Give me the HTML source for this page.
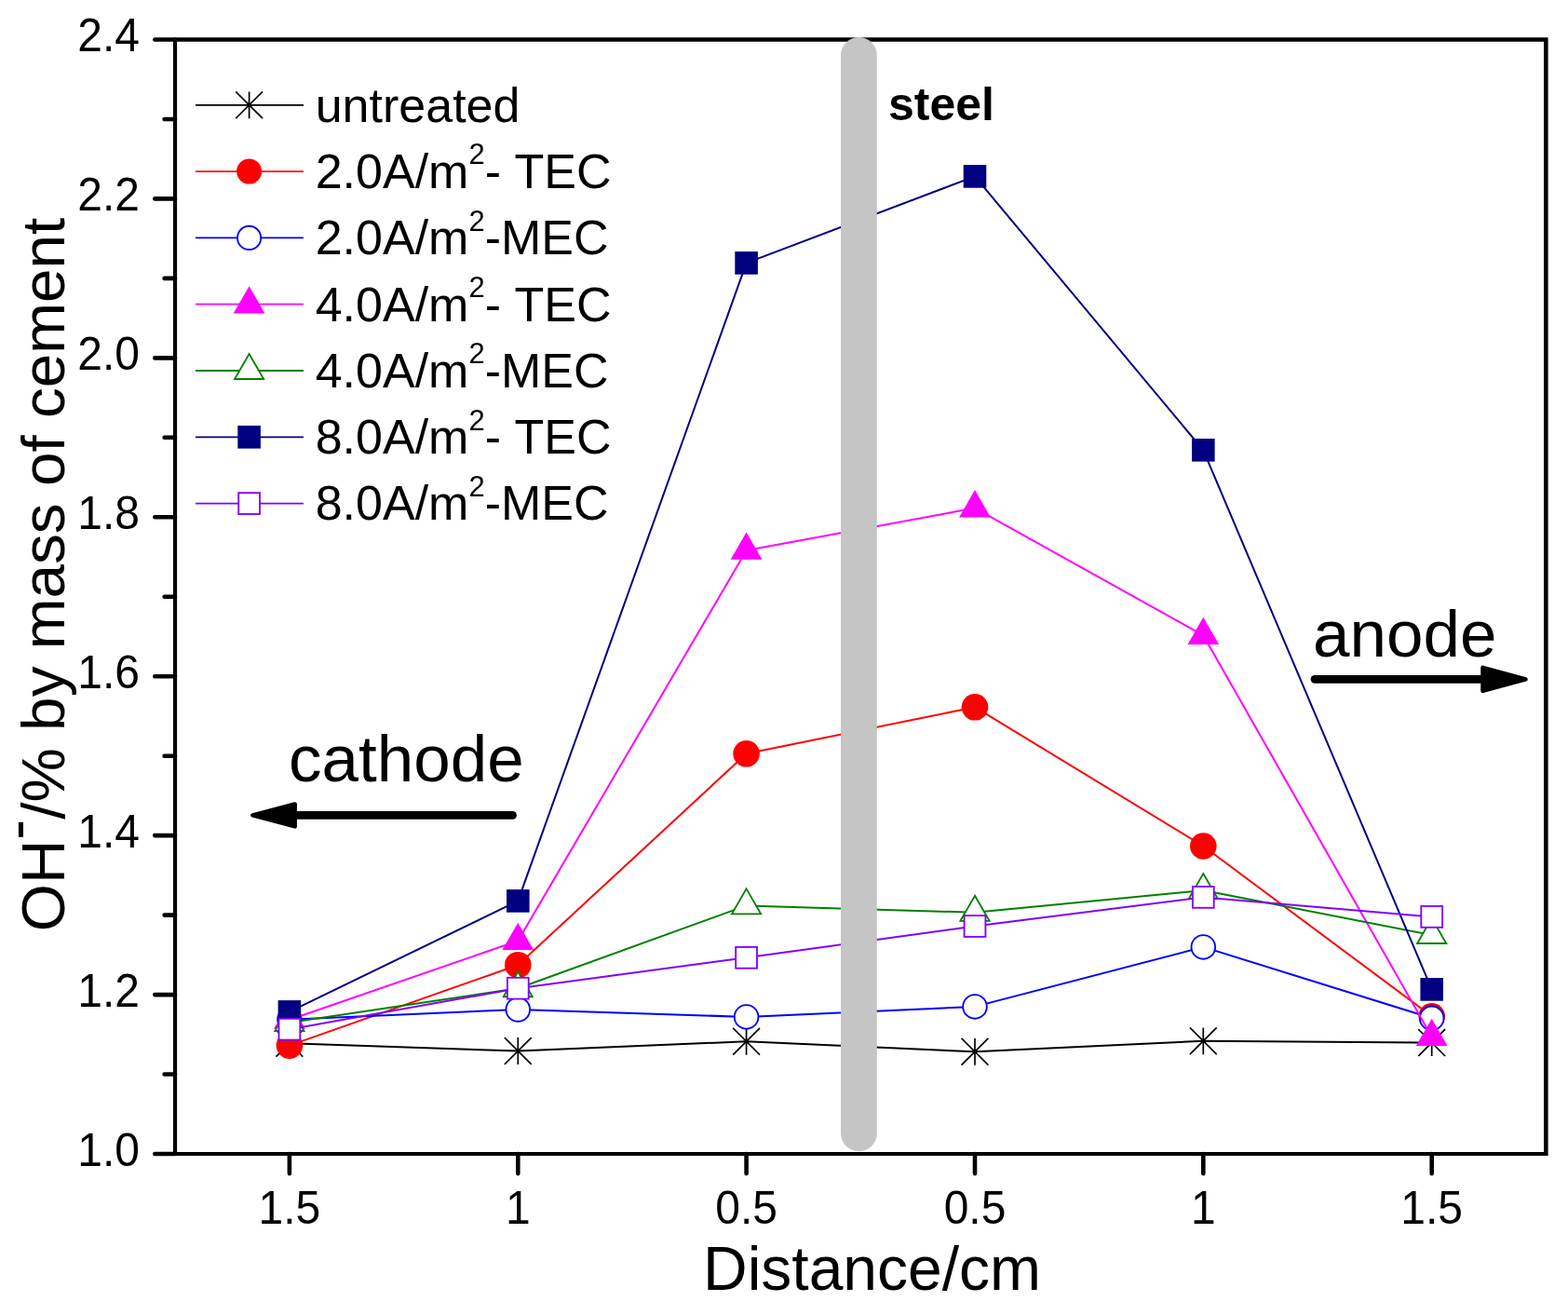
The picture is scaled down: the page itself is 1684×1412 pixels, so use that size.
<!DOCTYPE html><html><head><meta charset="utf-8"><title>OH- by mass of cement</title>
<style>html,body{margin:0;padding:0;background:#fff;}svg{display:block;}text{font-family:"Liberation Sans",Arial,sans-serif;}</style></head><body>
<svg width="1684" height="1412" viewBox="0 0 1684 1412">
<rect width="1684" height="1412" fill="#fff"/>
<polyline points="310.9,1120.3 556.3,1128.5 801.6,1118.3 1047.0,1129.3 1292.3,1117.8 1537.7,1119.6" fill="none" stroke="#000000" stroke-width="2.0" stroke-linejoin="round"/>
<path d="M310.9 1105.9V1134.7M296.5 1105.9L325.3 1134.7M296.5 1134.7L325.3 1105.9" stroke="#000000" stroke-width="1.7" fill="none"/>
<path d="M556.3 1114.1V1142.9M541.9 1114.1L570.7 1142.9M541.9 1142.9L570.7 1114.1" stroke="#000000" stroke-width="1.7" fill="none"/>
<path d="M801.6 1103.9V1132.7M787.2 1103.9L816.0 1132.7M787.2 1132.7L816.0 1103.9" stroke="#000000" stroke-width="1.7" fill="none"/>
<path d="M1047.0 1114.9V1143.7M1032.6 1114.9L1061.4 1143.7M1032.6 1143.7L1061.4 1114.9" stroke="#000000" stroke-width="1.7" fill="none"/>
<path d="M1292.3 1103.4V1132.2M1277.9 1103.4L1306.7 1132.2M1277.9 1132.2L1306.7 1103.4" stroke="#000000" stroke-width="1.7" fill="none"/>
<path d="M1537.7 1105.2V1134.0M1523.3 1105.2L1552.1 1134.0M1523.3 1134.0L1552.1 1105.2" stroke="#000000" stroke-width="1.7" fill="none"/>
<polyline points="310.9,1122.6 556.3,1036.2 801.6,809.3 1047.0,759.3 1292.3,908.5 1537.7,1091.3" fill="none" stroke="#FF0000" stroke-width="2.0" stroke-linejoin="round"/>
<circle cx="310.9" cy="1122.6" r="14.3" fill="#FF0000"/>
<circle cx="556.3" cy="1036.2" r="14.3" fill="#FF0000"/>
<circle cx="801.6" cy="809.3" r="14.3" fill="#FF0000"/>
<circle cx="1047.0" cy="759.3" r="14.3" fill="#FF0000"/>
<circle cx="1292.3" cy="908.5" r="14.3" fill="#FF0000"/>
<circle cx="1537.7" cy="1091.3" r="14.3" fill="#FF0000"/>
<polyline points="310.9,1094.7 556.3,1084.0 801.6,1091.9 1047.0,1080.9 1292.3,1016.9 1537.7,1093.3" fill="none" stroke="#0000FF" stroke-width="2.0" stroke-linejoin="round"/>
<circle cx="310.9" cy="1094.7" r="12.8" fill="#fff" stroke="#0000FF" stroke-width="1.85"/>
<circle cx="556.3" cy="1084.0" r="12.8" fill="#fff" stroke="#0000FF" stroke-width="1.85"/>
<circle cx="801.6" cy="1091.9" r="12.8" fill="#fff" stroke="#0000FF" stroke-width="1.85"/>
<circle cx="1047.0" cy="1080.9" r="12.8" fill="#fff" stroke="#0000FF" stroke-width="1.85"/>
<circle cx="1292.3" cy="1016.9" r="12.8" fill="#fff" stroke="#0000FF" stroke-width="1.85"/>
<circle cx="1537.7" cy="1093.3" r="12.8" fill="#fff" stroke="#0000FF" stroke-width="1.85"/>
<polyline points="310.9,1095.0 556.3,1010.2 801.6,591.0 1047.0,545.6 1292.3,682.2 1537.7,1113.3" fill="none" stroke="#FF00FF" stroke-width="2.0" stroke-linejoin="round"/>
<path d="M310.9 1075.5L327.8 1104.8L294.0 1104.8Z" fill="#FF00FF"/>
<path d="M556.3 990.7L573.1 1020.0L539.4 1020.0Z" fill="#FF00FF"/>
<path d="M801.6 571.5L818.5 600.8L784.7 600.8Z" fill="#FF00FF"/>
<path d="M1047.0 526.1L1063.9 555.4L1030.1 555.4Z" fill="#FF00FF"/>
<path d="M1292.3 662.7L1309.2 692.0L1275.5 692.0Z" fill="#FF00FF"/>
<path d="M1537.7 1093.8L1554.6 1123.0L1520.8 1123.0Z" fill="#FF00FF"/>
<polyline points="310.9,1098.0 556.3,1061.2 801.6,972.4 1047.0,979.8 1292.3,956.0 1537.7,1004.0" fill="none" stroke="#008000" stroke-width="2.0" stroke-linejoin="round"/>
<path d="M310.9 1080.0L326.5 1107.0L295.3 1107.0Z" fill="#fff" stroke="#008000" stroke-width="1.85"/>
<path d="M556.3 1043.2L571.8 1070.2L540.7 1070.2Z" fill="#fff" stroke="#008000" stroke-width="1.85"/>
<path d="M801.6 954.4L817.2 981.4L786.0 981.4Z" fill="#fff" stroke="#008000" stroke-width="1.85"/>
<path d="M1047.0 961.8L1062.6 988.8L1031.4 988.8Z" fill="#fff" stroke="#008000" stroke-width="1.85"/>
<path d="M1292.3 938.0L1307.9 965.0L1276.8 965.0Z" fill="#fff" stroke="#008000" stroke-width="1.85"/>
<path d="M1537.7 986.0L1553.3 1013.0L1522.1 1013.0Z" fill="#fff" stroke="#008000" stroke-width="1.85"/>
<polyline points="310.9,1086.4 556.3,967.4 801.6,282.4 1047.0,189.4 1292.3,483.3 1537.7,1062.4" fill="none" stroke="#000080" stroke-width="2.0" stroke-linejoin="round"/>
<rect x="298.6" y="1074.1" width="24.6" height="24.6" fill="#000080"/>
<rect x="544.0" y="955.1" width="24.6" height="24.6" fill="#000080"/>
<rect x="789.3" y="270.1" width="24.6" height="24.6" fill="#000080"/>
<rect x="1034.7" y="177.1" width="24.6" height="24.6" fill="#000080"/>
<rect x="1280.0" y="471.0" width="24.6" height="24.6" fill="#000080"/>
<rect x="1525.4" y="1050.1" width="24.6" height="24.6" fill="#000080"/>
<polyline points="310.9,1105.2 556.3,1061.2 801.6,1028.3 1047.0,994.5 1292.3,963.4 1537.7,984.4" fill="none" stroke="#8000FF" stroke-width="2.0" stroke-linejoin="round"/>
<rect x="299.5" y="1093.8" width="22.8" height="22.8" fill="#fff" stroke="#8000FF" stroke-width="1.85"/>
<rect x="544.9" y="1049.8" width="22.8" height="22.8" fill="#fff" stroke="#8000FF" stroke-width="1.85"/>
<rect x="790.2" y="1016.9" width="22.8" height="22.8" fill="#fff" stroke="#8000FF" stroke-width="1.85"/>
<rect x="1035.6" y="983.1" width="22.8" height="22.8" fill="#fff" stroke="#8000FF" stroke-width="1.85"/>
<rect x="1280.9" y="952.0" width="22.8" height="22.8" fill="#fff" stroke="#8000FF" stroke-width="1.85"/>
<rect x="1526.3" y="973.0" width="22.8" height="22.8" fill="#fff" stroke="#8000FF" stroke-width="1.85"/>
<path d="M185.9 40.2H1662.6V44.8H185.9Z M185.9 1236.9H1662.6V1240.9H185.9Z M185.9 40.2H190.1V1240.9H185.9Z M1658.1 40.2H1662.6V1240.9H1658.1Z" fill="#000"/>
<line x1="922.4" y1="59.4" x2="922.4" y2="1216.8" stroke="#C5C5C5" stroke-width="38.8" stroke-linecap="round"/>
<path d="M188.0 1239.0H166.3M188.0 1153.5H176.6M188.0 1068.1H166.3M188.0 982.6H176.6M188.0 897.1H166.3M188.0 811.7H176.6M188.0 726.2H166.3M188.0 640.8H176.6M188.0 555.3H166.3M188.0 469.8H176.6M188.0 384.4H166.3M188.0 298.9H176.6M188.0 213.4H166.3M188.0 128.0H176.6M188.0 42.5H166.3M310.9 1239.0V1260.1M556.3 1239.0V1260.1M801.6 1239.0V1260.1M1047.0 1239.0V1260.1M1292.3 1239.0V1260.1M1537.7 1239.0V1260.1" stroke="#000" stroke-width="4.6" stroke-linecap="round" fill="none"/>
<text transform="translate(150 1251.5) scale(1 1.04)" font-size="48" text-anchor="end">1.0</text>
<text transform="translate(150 1080.6) scale(1 1.04)" font-size="48" text-anchor="end">1.2</text>
<text transform="translate(150 909.6) scale(1 1.04)" font-size="48" text-anchor="end">1.4</text>
<text transform="translate(150 738.7) scale(1 1.04)" font-size="48" text-anchor="end">1.6</text>
<text transform="translate(150 567.8) scale(1 1.04)" font-size="48" text-anchor="end">1.8</text>
<text transform="translate(150 396.9) scale(1 1.04)" font-size="48" text-anchor="end">2.0</text>
<text transform="translate(150 225.9) scale(1 1.04)" font-size="48" text-anchor="end">2.2</text>
<text transform="translate(150 55.0) scale(1 1.04)" font-size="48" text-anchor="end">2.4</text>
<text transform="translate(310.9 1314) scale(1 1.04)" font-size="48" text-anchor="middle">1.5</text>
<text transform="translate(556.3 1314) scale(1 1.04)" font-size="48" text-anchor="middle">1</text>
<text transform="translate(801.6 1314) scale(1 1.04)" font-size="48" text-anchor="middle">0.5</text>
<text transform="translate(1047.0 1314) scale(1 1.04)" font-size="48" text-anchor="middle">0.5</text>
<text transform="translate(1292.3 1314) scale(1 1.04)" font-size="48" text-anchor="middle">1</text>
<text transform="translate(1537.7 1314) scale(1 1.04)" font-size="48" text-anchor="middle">1.5</text>
<text x="755" y="1384.6" font-size="66">Distance/cm</text>
<text transform="translate(68.6 1000.2) rotate(-90)" font-size="65.7">OH<tspan dy="-28.5">-</tspan><tspan dy="28.5">/% by mass of cement</tspan></text>
<text x="954" y="129.2" font-size="50" font-weight="bold">steel</text>
<text x="1410" y="704.9" font-size="71">anode</text>
<text x="310" y="839.3" font-size="71">cathode</text>
<line x1="1412" y1="729.3" x2="1595" y2="729.3" stroke="#000" stroke-width="8.7" stroke-linecap="round"/>
<path d="M1592.5 716.8L1638.5 729.3L1592.5 741.8Z" fill="#000" stroke="#000" stroke-width="4.5" stroke-linejoin="round"/>
<line x1="550.6" y1="875.4" x2="315" y2="875.4" stroke="#000" stroke-width="8.6" stroke-linecap="round"/>
<path d="M316.7 863.4L271.4 875.4L316.7 887.4Z" fill="#000" stroke="#000" stroke-width="4.5" stroke-linejoin="round"/>
<line x1="210" y1="112.8" x2="326" y2="112.8" stroke="#000000" stroke-width="1.8"/>
<path d="M267.6 98.4V127.2M253.2 98.4L282.0 127.2M253.2 127.2L282.0 98.4" stroke="#000000" stroke-width="1.7" fill="none"/>
<text x="338.7" y="130.6" font-size="52">untreated</text>
<line x1="210" y1="184.1" x2="326" y2="184.1" stroke="#FF0000" stroke-width="1.8"/>
<circle cx="267.6" cy="184.1" r="13.5" fill="#FF0000"/>
<text x="338.7" y="201.9" font-size="52">2.0A/m<tspan font-size="31" dy="-25.6">2</tspan><tspan dy="25.6">-&#160;TEC</tspan></text>
<line x1="210" y1="255.4" x2="326" y2="255.4" stroke="#0000FF" stroke-width="1.8"/>
<circle cx="267.6" cy="255.4" r="12.6" fill="#fff" stroke="#0000FF" stroke-width="1.85"/>
<text x="338.7" y="273.2" font-size="52">2.0A/m<tspan font-size="31" dy="-25.6">2</tspan><tspan dy="25.6">-MEC</tspan></text>
<line x1="210" y1="326.7" x2="326" y2="326.7" stroke="#FF00FF" stroke-width="1.8"/>
<path d="M267.6 307.2L284.5 336.4L250.7 336.4Z" fill="#FF00FF"/>
<text x="338.7" y="344.5" font-size="52">4.0A/m<tspan font-size="31" dy="-25.6">2</tspan><tspan dy="25.6">-&#160;TEC</tspan></text>
<line x1="210" y1="398.0" x2="326" y2="398.0" stroke="#008000" stroke-width="1.8"/>
<path d="M267.6 380.0L283.2 407.0L252.0 407.0Z" fill="#fff" stroke="#008000" stroke-width="1.85"/>
<text x="338.7" y="415.8" font-size="52">4.0A/m<tspan font-size="31" dy="-25.6">2</tspan><tspan dy="25.6">-MEC</tspan></text>
<line x1="210" y1="469.3" x2="326" y2="469.3" stroke="#000080" stroke-width="1.8"/>
<rect x="255.3" y="457.0" width="24.6" height="24.6" fill="#000080"/>
<text x="338.7" y="487.1" font-size="52">8.0A/m<tspan font-size="31" dy="-25.6">2</tspan><tspan dy="25.6">-&#160;TEC</tspan></text>
<line x1="210" y1="540.6" x2="326" y2="540.6" stroke="#8000FF" stroke-width="1.8"/>
<rect x="256.2" y="529.2" width="22.8" height="22.8" fill="#fff" stroke="#8000FF" stroke-width="1.85"/>
<text x="338.7" y="558.4" font-size="52">8.0A/m<tspan font-size="31" dy="-25.6">2</tspan><tspan dy="25.6">-MEC</tspan></text>
</svg></body></html>
